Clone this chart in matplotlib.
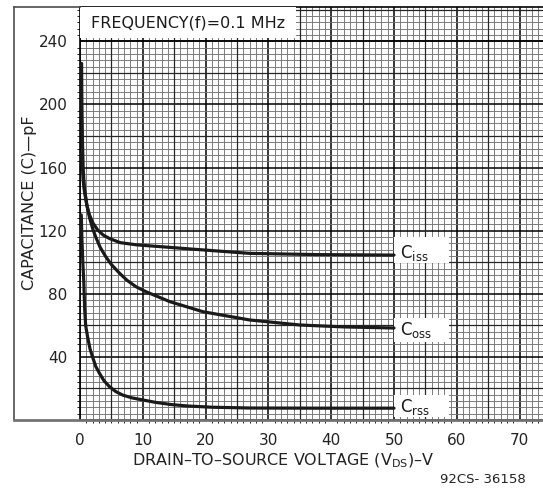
import numpy as np
import matplotlib
matplotlib.use("Agg")
import matplotlib.pyplot as plt
from matplotlib.patches import Rectangle
from matplotlib.lines import Line2D

# drain-to-source voltage (V) and capacitance (pF)
v_iss = [0.25, 0.3, 0.4, 0.5, 0.7, 1.1, 1.5, 2.1, 2.8, 3.7, 4.7, 6.4, 9, 14.3, 17.5, 27, 38, 50]
c_iss = [226, 200, 175, 160, 147, 136, 130, 124.6, 120.5, 117.2, 115, 112.4, 111, 109.4, 108.4, 105.6, 104.8, 104.5]

v_oss = [0.25, 0.5, 0.7, 1.1, 1.5, 2.0, 2.5, 3.2, 4.1, 5.0, 6.3, 7.5, 8.9, 10.5, 14.3, 19.6, 27, 35, 42, 50]
c_oss = [169, 152, 145, 136, 128.5, 121.5, 116, 109.5, 103.5, 98.5, 93, 88.5, 84.5, 81.3, 75, 68.6, 63.4, 60.2, 59, 58.3]

v_rss = [0.2, 0.3, 0.45, 0.6, 0.75, 0.9, 1.2, 1.6, 2.0, 2.5, 3.1, 3.8, 4.7, 5.7, 6.8, 8.3, 10, 12,
         14.5, 17, 21, 27, 38, 50]
c_rss = [130, 115, 100, 88, 70, 60, 52.8, 45, 40, 34, 29.6, 25, 21.1, 18, 15.8, 14, 12.7, 11.2,
         9.8, 8.9, 8.1, 7.6, 7.5, 7.5]

curve_names = [r"C$_{\mathrm{iss}}$", r"C$_{\mathrm{oss}}$", r"C$_{\mathrm{rss}}$"]
x_ticks = [0, 10, 20, 30, 40, 50, 60, 70]
y_ticks = [40, 80, 120, 160, 200, 240]

W, H = 543, 490
fig = plt.figure(figsize=(W / 100, H / 100), dpi=100)
ax = fig.add_axes([80 / W, 70 / H, (W - 80) / W, 413 / H])
xmax = 463 / 6.28
ymax = 413 / 1.578
ax.set_xlim(0, xmax)
ax.set_ylim(0, ymax)

# graph paper
ax.set_xticks(x_ticks)
ax.set_yticks(y_ticks)
ax.set_xticks(np.arange(0, xmax, 1), minor=True)
ax.set_yticks(np.arange(0, ymax, 4), minor=True)
ax.grid(which="minor", color="0.45", lw=0.65)
ax.grid(which="major", color="k", lw=1.1)
for v in np.arange(5, xmax, 10):
    ax.axvline(v, color="0.15", lw=0.9, zorder=0.6)
for c in np.arange(20, ymax, 40):
    ax.axhline(c, color="0.15", lw=0.9, zorder=0.6)
ax.axhline(240, color="k", lw=1.1, zorder=0.6)
ax.set_axisbelow(True)
for s in ax.spines.values():
    s.set_color("k")
    s.set_linewidth(1.2)
ax.spines["right"].set_visible(False)
ax.tick_params(length=0, pad=9, labelsize=11, colors="#222222")

# curves
for vv, cc in [(v_iss, c_iss), (v_oss, c_oss), (v_rss, c_rss)]:
    ax.plot(vv, cc, color="#1a1a1a", lw=2.3, zorder=4, solid_capstyle="round",
            solid_joinstyle="round")

# label boxes
label_boxes = [(99.5, 16.5, 106), (49.4, 15.2, 57), (1.9, 13.9, 8.4)]
for name, (y0, h, yt) in zip(curve_names, label_boxes):
    ax.add_patch(Rectangle((50, y0), 8.7, h, facecolor="white", edgecolor="none", zorder=3))
    ax.text(51.0, yt, name, fontsize=12, va="center", ha="left", color="#1a1a1a", zorder=5)

# title box
ax.add_patch(Rectangle((0, 242), 34.4, 25, facecolor="white", edgecolor="none", zorder=3, clip_on=True))
ax.text(17.2, 251.5, "FREQUENCY(f)=0.1 MHz", fontsize=11.5, ha="center", va="center",
        color="#1a1a1a", zorder=5)

# outer frame
fig.add_artist(Line2D([14 / W, 14 / W], [70 / H, 483 / H], color="0.3", lw=1.2))
fig.add_artist(Line2D([14 / W, 1], [70 / H, 70 / H], color="0.45", lw=2))
fig.add_artist(Line2D([14 / W, 80 / W], [483 / H, 483 / H], color="0.3", lw=1.2))

fig.text(30 / W, 1 - 203 / H, "CAPACITANCE (C)\u2014pF", rotation=90, ha="center", va="center",
         fontsize=11.5, color="#222222")
fig.text(283 / W, 1 - 461 / H, "DRAIN\u2013TO\u2013SOURCE VOLTAGE (V$_{\\mathrm{DS}}$)\u2013V",
         ha="center", va="center", fontsize=11.5, color="#222222")
fig.text(483 / W, 1 - 479 / H, "92CS- 36158", ha="center", va="center", fontsize=9.5,
         color="#222222")

fig.savefig("out.png", dpi=100)
